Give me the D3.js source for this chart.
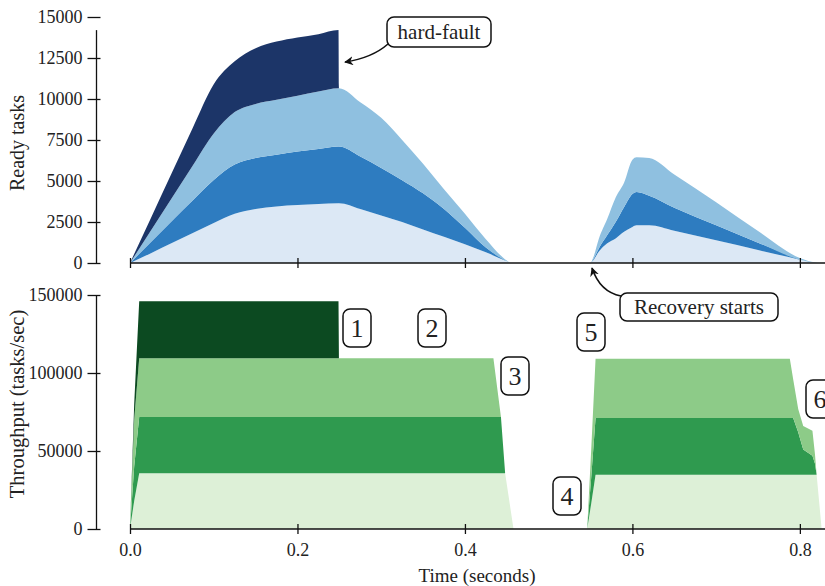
<!DOCTYPE html>
<html>
<head>
<meta charset="utf-8">
<script src="https://cdn.jsdelivr.net/npm/d3@7"></script>
<style>
  html, body { margin: 0; padding: 0; background: #fff; }
  svg { display: block; }
  text { font-family: "Liberation Serif", "Times New Roman", serif; fill: #222; }
</style>
</head>
<body>
<svg id="chart" width="825" height="586"></svg>
<script>
// ---------------- DATA ----------------
// Top panel: ready tasks per worker (stacked), time in seconds
const readyTime = [0, 0.025, 0.05, 0.075, 0.1, 0.125, 0.15, 0.175, 0.2, 0.225, 0.249, 0.2495,
  0.275, 0.3, 0.325, 0.35, 0.375, 0.4, 0.425, 0.45, 0.455,
  0.55, 0.553, 0.56, 0.57, 0.58, 0.59, 0.6, 0.605, 0.62, 0.65, 0.7, 0.75, 0.8, 0.81, 0.825, 0.83];
const readyW1 = [0, 600, 1220, 1830, 2440, 3000, 3300, 3450, 3530, 3600, 3650, 3650,
  3300, 2900, 2500, 2050, 1600, 1150, 650, 100, 0,
  0, 150, 700, 1200, 1500, 1900, 2200, 2300, 2300, 1970, 1380, 790, 200, 80, 0, 0];
const readyW2 = [0, 680, 1340, 1990, 2620, 3000, 3100, 3150, 3270, 3350, 3450, 3450,
  3200, 2900, 2550, 2200, 1700, 1000, 300, 0, 0,
  0, 50, 200, 500, 1000, 1500, 2000, 2030, 1800, 1400, 920, 450, 0, 0, 0, 0];
const readyW3 = [0, 700, 1400, 2130, 2840, 3200, 3300, 3350, 3400, 3500, 3550, 3550,
  3300, 3050, 2450, 1800, 1200, 850, 500, 50, 0,
  0, 100, 600, 1000, 1500, 1500, 2100, 2120, 2300, 2030, 1400, 710, 100, 40, 0, 0];
const readyW4 = [0, 770, 1540, 2300, 3000, 3100, 3400, 3550, 3550, 3500, 3550, 0,
  0, 0, 0, 0, 0, 0, 0, 0, 0,
  0, 0, 0, 0, 0, 0, 0, 0, 0, 0, 0, 0, 0, 0, 0, 0];

// Bottom panel: throughput per worker (stacked)
const thrTime = [0, 0.005, 0.011, 0.249, 0.2495, 0.434, 0.443, 0.448, 0.458,
  0.546, 0.551, 0.556, 0.788, 0.792, 0.798, 0.804, 0.815, 0.818, 0.820, 0.826, 0.83];
const thrW1 = [0, 18000, 35800, 35800, 35800, 35800, 35800, 35800, 0,
  0, 17000, 34800, 34800, 34800, 34800, 34800, 34800, 34800, 34800, 0, 0];
const thrW2 = [0, 22000, 36000, 36000, 36000, 36000, 36000, 0, 0,
  0, 17500, 36300, 36300, 36300, 27200, 16200, 12200, 7200, 0, 0, 0];
const thrW3 = [0, 30000, 37700, 37700, 37700, 37700, 0, 0, 0,
  0, 18500, 38000, 38000, 24900, 15000, 15000, 16000, 6000, 0, 0, 0];
const thrW4 = [0, 10000, 36500, 36500, 0, 0, 0, 0, 0,
  0, 0, 0, 0, 0, 0, 0, 0, 0, 0, 0, 0];

const xTicks = [0, 0.2, 0.4, 0.6, 0.8];
const readyTicks = [0, 2500, 5000, 7500, 10000, 12500, 15000];
const thrTicks = [0, 50000, 100000, 150000];

const readyColors = ["#dce8f5", "#2e7cc0", "#8fc0e0", "#1c3568"];
const thrColors = ["#ddf0d7", "#2f9a4f", "#8dcb88", "#0c4a21"];

// ---------------- LAYOUT ----------------
const svg = d3.select("#chart");
const x = d3.scaleLinear().domain([0, 0.83]).range([130, 825]);
const yTop = d3.scaleLinear().domain([0, 15000]).range([263, 17]);
const yBot = d3.scaleLinear().domain([0, 150000]).range([529, 295]);
const axisX = 96.5;

function stackData(times, series) {
  const rows = times.map((t, i) => {
    const r = { t };
    series.forEach((s, k) => r["w" + k] = s[i]);
    return r;
  });
  const keys = series.map((s, k) => "w" + k);
  return d3.stack().keys(keys)(rows);
}

function drawStack(stacked, yScale, colors, curve) {
  const g = svg.append("g");
  stacked.forEach((layer, li) => {
    const th = layer.map(d => d[1] - d[0]);
    const area = d3.area()
      .curve(curve)
      .defined((d, i) => th[i] > 0 || (i > 0 && th[i - 1] > 0) || (i < th.length - 1 && th[i + 1] > 0))
      .x(d => x(d.data.t))
      .y0(d => yScale(d[0]))
      .y1(d => yScale(d[1]));
    g.append("path").attr("d", area(layer)).attr("fill", colors[li]).attr("stroke", "none");
  });
}

drawStack(stackData(readyTime, [readyW1, readyW2, readyW3, readyW4]), yTop, readyColors, d3.curveMonotoneX);
drawStack(stackData(thrTime, [thrW1, thrW2, thrW3, thrW4]), yBot, thrColors, d3.curveLinear);

// ---------------- AXES ----------------
function xAxis(yPos, labels) {
  const g = svg.append("g").attr("transform", `translate(0,${yPos})`)
    .call(d3.axisBottom(x).tickValues(xTicks).tickSize(0).tickPadding(14)
      .tickFormat(labels ? d3.format(".1f") : () => ""));
  g.select(".domain").attr("d", `M${x(0)},0H825`).attr("stroke", "#111").attr("stroke-width", 1.3);
  g.selectAll(".tick line").attr("y1", -5).attr("y2", 5).attr("stroke", "#111").attr("stroke-width", 1.3);
  g.selectAll(".tick text").attr("font-size", 18).attr("font-family", "Liberation Serif").attr("fill", "#444");
  return g;
}
function yAxis(scale, ticks, spineTop) {
  const g = svg.append("g").attr("transform", `translate(${axisX},0)`)
    .call(d3.axisLeft(scale).tickValues(ticks).tickSize(0).tickPadding(14).tickFormat(d3.format("d")));
  g.select(".domain").attr("d", `M0,${scale(0)}V${scale(spineTop)}`).attr("stroke", "#111").attr("stroke-width", 1.3);
  g.selectAll(".tick line").attr("x1", -9).attr("x2", 4).attr("stroke", "#111").attr("stroke-width", 1.3);
  g.selectAll(".tick text").attr("font-size", 18).attr("font-family", "Liberation Serif").attr("fill", "#444");
  return g;
}
xAxis(263, false);
xAxis(529, true);
yAxis(yTop, readyTicks, 14200);
yAxis(yBot, thrTicks, 150000);

// axis titles
svg.append("text").attr("transform", "translate(24,143) rotate(-90)")
  .attr("text-anchor", "middle").attr("font-size", 20).text("Ready tasks");
svg.append("text").attr("transform", "translate(24,404) rotate(-90)")
  .attr("text-anchor", "middle").attr("font-size", 20.5).text("Throughput (tasks/sec)");
svg.append("text").attr("x", 477).attr("y", 582)
  .attr("text-anchor", "middle").attr("font-size", 19).text("Time (seconds)");

// ---------------- ANNOTATIONS ----------------
const defs = svg.append("defs");
defs.append("marker").attr("id", "arr").attr("viewBox", "0 0 10 10")
  .attr("refX", 9).attr("refY", 5).attr("markerWidth", 9).attr("markerHeight", 9)
  .attr("markerUnits", "userSpaceOnUse").attr("orient", "auto")
  .append("path").attr("d", "M0,0 L10,5 L0,10 L3,5 Z").attr("fill", "#111");

function box(x0, y0, w, h, label, size) {
  svg.append("rect").attr("x", x0).attr("y", y0).attr("width", w).attr("height", h)
    .attr("rx", 7).attr("ry", 7).attr("fill", "#fff").attr("stroke", "#111").attr("stroke-width", 1.5);
  svg.append("text").attr("x", x0 + w / 2).attr("y", y0 + h / 2)
    .attr("dy", "0.35em").attr("text-anchor", "middle").attr("font-size", size).text(label);
}

svg.append("path").attr("d", "M388,44 Q372,58 345,62")
  .attr("fill", "none").attr("stroke", "#111").attr("stroke-width", 1.6).attr("marker-end", "url(#arr)");
box(387, 17, 104, 30, "hard-fault", 21);

svg.append("path").attr("d", "M621,296 Q600,292 592,268")
  .attr("fill", "none").attr("stroke", "#111").attr("stroke-width", 1.6).attr("marker-end", "url(#arr)");
box(620, 293, 158, 28, "Recovery starts", 21);

const markers = [
  { label: "1", x: 343, y: 309 },
  { label: "2", x: 418, y: 309 },
  { label: "3", x: 501, y: 357 },
  { label: "4", x: 553, y: 477 },
  { label: "5", x: 577, y: 313 },
  { label: "6", x: 806, y: 380 }
];
markers.forEach(m => box(m.x, m.y, 28, 38, m.label, 26));
</script>
</body>
</html>
